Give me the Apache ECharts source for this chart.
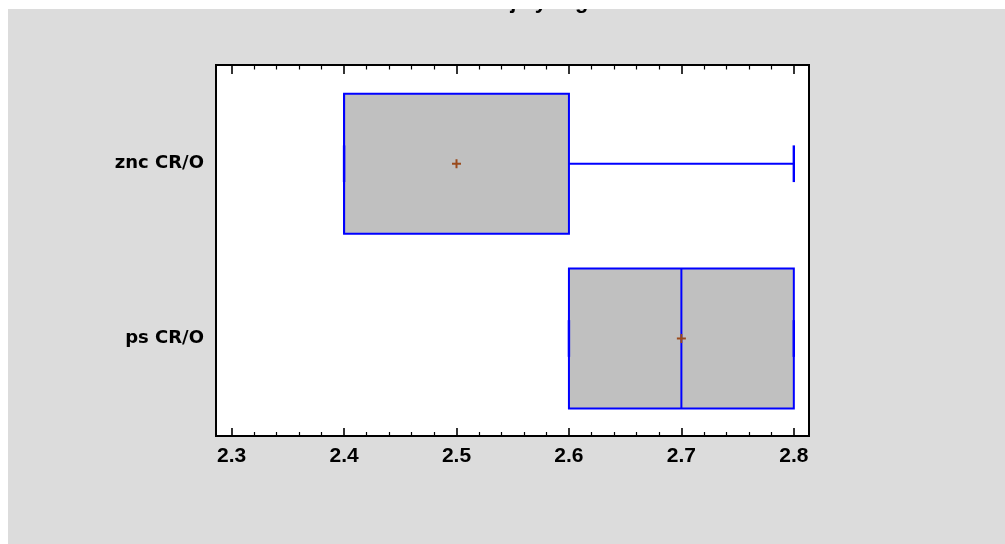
<!DOCTYPE html>
<html>
<head>
<meta charset="utf-8">
<script src="https://cdn.jsdelivr.net/npm/echarts@6/dist/echarts.min.js"></script>
<style>
  html, body { margin: 0; padding: 0; background: #ffffff; width: 1005px; height: 544px; overflow: hidden; }
  #chart { position: absolute; left: 8px; top: 9px; width: 997px; height: 535px; }
</style>
</head>
<body>
<div id="chart"></div>
<script>
// ---- data ----
const titleText = 'Gráfico Caja y Bigotes';
const categories = ['znc CR/O', 'ps CR/O'];
const mins    = [2.4, 2.6];
const q1s     = [2.4, 2.6];
const medians = [2.4, 2.7];
const q3s     = [2.6, 2.8];
const maxs    = [2.8, 2.8];
const means   = [2.5, 2.7];
const xTicks  = [2.3, 2.4, 2.5, 2.6, 2.7, 2.8];

// minor ticks: 4 between each pair of major ticks
const xMinor = [];
for (let i = 0; i < xTicks.length - 1; i++) {
  for (let k = 1; k < 5; k++) {
    xMinor.push(+(xTicks[i] + (xTicks[i + 1] - xTicks[i]) * k / 5).toFixed(4));
  }
}

const boxData = categories.map((c, i) => [i, mins[i], q1s[i], medians[i], q3s[i], maxs[i], means[i]]);

const X_MIN = 2.2861, X_MAX = 2.8135;
const BLUE = '#0000FF';
const BROWN = '#9A4A1C';

function renderBox(params, api) {
  const idx = api.value(0);
  const vMin = api.value(1), vQ1 = api.value(2), vMed = api.value(3),
        vQ3 = api.value(4), vMax = api.value(5), vMean = api.value(6);
  const y = api.coord([vMed, idx])[1];
  const xMin = api.coord([vMin, idx])[0];
  const xQ1 = api.coord([vQ1, idx])[0];
  const xMed = api.coord([vMed, idx])[0];
  const xQ3 = api.coord([vQ3, idx])[0];
  const xMax = api.coord([vMax, idx])[0];
  const xMean = api.coord([vMean, idx])[0];
  const half = Math.abs(api.size([0, 0.8])[1]) / 2;
  const capHalf = Math.abs(api.size([0, 0.21])[1]) / 2;
  const lineStyle = { stroke: BLUE, lineWidth: 2, fill: null };
  const m = 4.5;
  return {
    type: 'group',
    children: [
      { type: 'line', shape: { x1: xMin, y1: y, x2: xQ1, y2: y }, style: lineStyle },
      { type: 'line', shape: { x1: xQ3, y1: y, x2: xMax, y2: y }, style: lineStyle },
      { type: 'rect', shape: { x: xQ1, y: y - half, width: xQ3 - xQ1, height: 2 * half },
        style: { fill: '#C0C0C0', stroke: BLUE, lineWidth: 2 } },
      { type: 'line', shape: { x1: xMed, y1: y - half, x2: xMed, y2: y + half }, style: lineStyle },
      { type: 'line', shape: { x1: xMin, y1: y - capHalf, x2: xMin, y2: y + capHalf }, style: { stroke: BLUE, lineWidth: 2.4, fill: null } },
      { type: 'line', shape: { x1: xMax, y1: y - capHalf, x2: xMax, y2: y + capHalf }, style: { stroke: BLUE, lineWidth: 2.4, fill: null } },
      { type: 'line', shape: { x1: xMean - m, y1: y, x2: xMean + m, y2: y }, style: { stroke: BROWN, lineWidth: 2 } },
      { type: 'line', shape: { x1: xMean, y1: y - m, x2: xMean, y2: y + m }, style: { stroke: BROWN, lineWidth: 2 } }
    ]
  };
}

function tickAxis(position, values, len, width, showLabel) {
  return {
    type: 'value', gridIndex: 0, position: position, min: X_MIN, max: X_MAX,
    axisLine: { show: false, onZero: false },
    splitLine: { show: false },
    axisTick: { show: true, inside: true, length: len, customValues: values,
                lineStyle: { color: '#000', width: width } },
    axisLabel: showLabel ? {
      show: true, customValues: xTicks, margin: 10,
      formatter: v => (+v).toFixed(1),
      fontFamily: 'Liberation Sans', fontWeight: 'bold', fontSize: 21, color: '#000'
    } : { show: false }
  };
}

const chart = echarts.init(document.getElementById('chart'));
chart.setOption({
  backgroundColor: '#DCDCDC',
  animation: false,
  title: {
    text: titleText, left: 391, top: -18, padding: 0,
    textStyle: { fontFamily: 'Liberation Sans', fontWeight: 'bold', fontSize: 22, color: '#000' }
  },
  grid: {
    left: 208, top: 56, width: 593, height: 371,
    show: true, backgroundColor: '#FFFFFF', borderColor: '#000', borderWidth: 2
  },
  xAxis: [
    tickAxis('bottom', xTicks, 8, 1.6, true),
    tickAxis('bottom', xMinor, 4, 1.2, false),
    tickAxis('top', xTicks, 9, 1.6, false),
    tickAxis('top', xMinor, 4.5, 1.2, false)
  ],
  yAxis: {
    type: 'value', min: -0.565, max: 1.558, inverse: true,
    axisLine: { show: false, onZero: false }, axisTick: { show: false }, splitLine: { show: false },
    axisLabel: {
      customValues: [0, 1], margin: 12,
      formatter: v => categories[Math.round(v)] || '',
      fontFamily: 'DejaVu Sans', fontWeight: 'bold', fontSize: 18, color: '#000',
      padding: [2, 0, 0, 0]
    }
  },
  series: [{
    type: 'custom',
    xAxisIndex: 0, yAxisIndex: 0,
    renderItem: renderBox,
    encode: { x: [1, 2, 3, 4, 5, 6], y: 0 },
    data: boxData,
    clip: false
  }]
});
</script>
</body>
</html>
